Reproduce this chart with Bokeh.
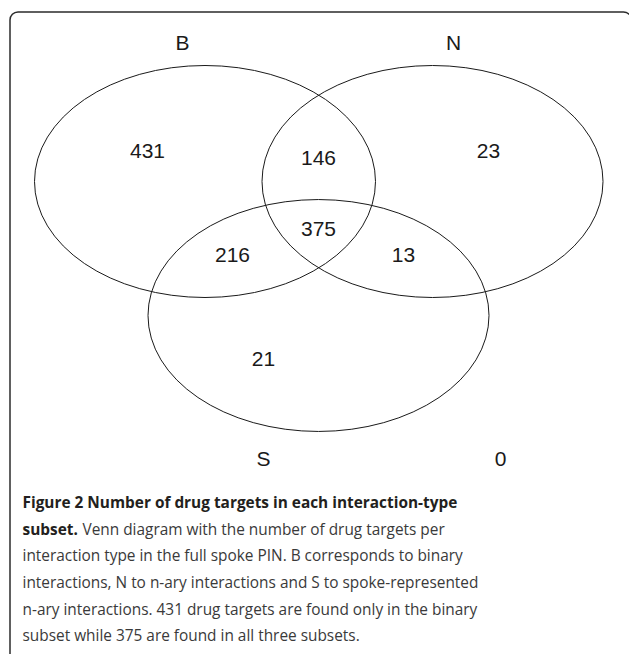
from bokeh.plotting import figure
from bokeh.models import Range1d, ColumnDataSource
from bokeh.core.properties import value
from bokeh.embed import file_html
from bokeh.resources import INLINE

# ---- data ----
set_names = ["B", "N", "S"]
region_names = ["B only", "B&N", "N only", "B&S", "B&N&S", "N&S", "S only", "none"]
region_counts = [431, 146, 23, 216, 375, 13, 21, 0]

caption_title = "Figure 2 Number of drug targets in each interaction-type"
caption_bold2 = "subset."
caption_rest2 = "Venn diagram with the number of drug targets per"
caption_lines = [
    "interaction type in the full spoke PIN. B corresponds to binary",
    "interactions, N to n-ary interactions and S to spoke-represented",
    "n-ary interactions. 431 drug targets are found only in the binary",
    "subset while 375 are found in all three subsets.",
]

# ---- layout (image pixel coordinates) ----
ell_x = [204.5, 432, 318]
ell_y = [181, 181, 315]
ell_w = [341, 341, 341]
ell_h = [232, 232, 232]
set_label_x = [182, 453, 263]
set_label_y = [42, 42, 458]
region_x = [147, 318, 488, 232, 318, 403, 263, 500]
region_y = [150, 157, 150, 254, 228, 254, 358, 458]

W, H = 629, 654
p = figure(width=W, height=H, output_backend="svg", toolbar_location=None,
           x_range=Range1d(0, W), y_range=Range1d(H, 0),
           min_border=0, outline_line_color=None)
p.axis.visible = False
p.grid.visible = False
p.background_fill_color = "white"
p.border_fill_color = "white"

# rounded frame
p.quad(left=[9.5], right=[631], top=[11.5], bottom=[700],
       fill_color=None, line_color="#2b2b2b", line_width=1.5,
       border_radius=8)

src_e = ColumnDataSource(dict(x=ell_x, y=ell_y, w=ell_w, h=ell_h))
p.ellipse(x="x", y="y", width="w", height="h", source=src_e,
          fill_color=None, line_color="#1a1a1a", line_width=1)

src_s = ColumnDataSource(dict(x=set_label_x, y=set_label_y, t=set_names))
p.text(x="x", y="y", text="t", source=src_s, text_align="center",
       text_baseline="middle", text_font=value("Liberation Sans"),
       text_font_size="21px", text_color="#1a1a1a")

src_r = ColumnDataSource(dict(x=region_x, y=region_y,
                              t=[str(v) for v in region_counts]))
p.text(x="x", y="y", text="t", source=src_r, text_align="center",
       text_baseline="middle", text_font=value("Liberation Sans"),
       text_font_size="21px", text_color="#1a1a1a")

# caption
cap_font = value("Open Sans")
cap_size = "15.4px"
line_y0 = 502
dy = 26.67
p.text(x=[22], y=[line_y0], text=[caption_title], text_align="left",
       text_baseline="middle", text_font=cap_font, text_font_size=cap_size,
       text_font_style="bold", text_color="#231f20")
p.text(x=[22], y=[line_y0 + dy], text=[caption_bold2], text_align="left",
       text_baseline="middle", text_font=cap_font, text_font_size=cap_size,
       text_font_style="bold", text_color="#231f20")
p.text(x=[82], y=[line_y0 + dy], text=[caption_rest2], text_align="left",
       text_baseline="middle", text_font=cap_font, text_font_size=cap_size,
       text_color="#3a3a3a")
p.text(x=[22] * len(caption_lines),
       y=[line_y0 + dy * (i + 2) for i in range(len(caption_lines))],
       text=caption_lines, text_align="left", text_baseline="middle",
       text_font=cap_font, text_font_size=cap_size, text_color="#3a3a3a")

open("out.html", "w").write(file_html(p, INLINE))
